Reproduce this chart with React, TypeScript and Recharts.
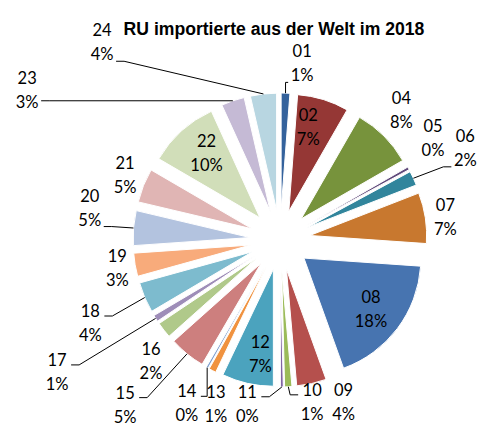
import { Pie, PieChart, Sector } from "recharts";

const TITLE = "RU importierte aus der Welt im 2018";

const codes = [
  "01", "02", "04", "05", "06", "07", "08", "09", "10", "11", "12", "13",
  "14", "15", "16", "17", "18", "19", "20", "21", "22", "23", "24",
];

// share of imports in %
const values = [
  1.2, 7.1, 8.4, 0.4, 2.0, 7.0, 18.4, 4.1, 1.0, 0.4, 7.1, 1.0,
  0.3, 5.0, 2.2, 0.9, 4.2, 3.2, 4.8, 4.7, 9.8, 3.2, 3.6,
];

const colors = [
  "#34629c", "#953735", "#77933c", "#604a7b", "#31859c", "#c8782f", "#4774b0", "#b5504d",
  "#9bbb59", "#8064a2", "#4ba3be", "#f0923f", "#7f9fcf", "#cd7f7e", "#b0c98a", "#9e8db8",
  "#7dbbce", "#f8ab7b", "#b3c3df", "#e0b5b4", "#d1deb9", "#c5bad5", "#b8d6e1",
];

const leaderCodes = ["01", "06", "10", "11", "14", "15", "17", "18", "20", "23", "24"];

const data = codes.map((name, i) => ({ name, value: values[i], fill: colors[i] }));

const RADIAN = Math.PI / 180;
const RADIUS = 117;
const EXPLODE = 30;

// label placement: distance from centre and clockwise nudge in degrees
const labelRadius = [
  178, 116, 178, 184, 207, 167, 114, 174, 165, 167, 116, 176,
  188, 226, 177, 259, 207, 165, 193, 168, 114, 294, 266,
];
const labelShift = [
  5, -3, -2, -4.6, -1.6, 0.8, 0, -9, -8, 12, -3, -6,
  0, 4, -5.4, 1.6, -0.6, 0, 5, 1, 2, -40.6, -35.5,
];

const ExplodedSlice = (props: any) => {
  const { cx, cy, midAngle, innerRadius, outerRadius, startAngle, endAngle, fill } = props;
  const dx = EXPLODE * Math.cos(-midAngle * RADIAN);
  const dy = EXPLODE * Math.sin(-midAngle * RADIAN);
  return (
    <Sector
      cx={cx + dx}
      cy={cy + dy}
      innerRadius={innerRadius}
      outerRadius={outerRadius}
      startAngle={startAngle}
      endAngle={endAngle}
      fill={fill}
      stroke="#fff"
      strokeWidth={1}
    />
  );
};

const renderLabel = (props: any) => {
  const { cx, cy, midAngle, percent, index } = props;
  const theta = 90 - midAngle;
  const phi = (theta + labelShift[index]) * RADIAN;
  const r = labelRadius[index];
  const lx = cx + r * Math.sin(phi);
  const ly = cy - r * Math.cos(phi);
  const code = codes[index];

  let leader = null;
  if (leaderCodes.includes(code)) {
    const reach = RADIUS + EXPLODE;
    const ax = cx + reach * Math.sin(theta * RADIAN);
    const ay = cy - reach * Math.cos(theta * RADIAN);
    const side = ax < lx ? -1 : 1;
    const ex = lx + side * 14;
    const ey = ly + Math.max(-7, Math.min(19, ay - ly));
    const tx = ex + side * Math.min(8, Math.abs(ax - ex));
    leader = (
      <path d={`M${ax},${ay}L${tx},${ey}L${ex},${ey}`} stroke="#000" strokeWidth={1} fill="none" />
    );
  }

  const textStyle = { fontFamily: "Lato, sans-serif", fontSize: 16.5, fill: "#000" };
  return (
    <g>
      {leader}
      <text x={lx} y={ly - 12} textAnchor="middle" dominantBaseline="central" style={textStyle}>
        {code}
      </text>
      <text x={lx} y={ly + 12} textAnchor="middle" dominantBaseline="central" style={textStyle}>
        {`${Math.round(percent * 100)}%`}
      </text>
    </g>
  );
};

const App = () => {
  return (
    <div style={{ position: "absolute", left: 0, top: 0, width: 484, height: 429, background: "#fff" }}>
      <PieChart width={484} height={429}>
        <Pie
          data={data}
          dataKey="value"
          nameKey="name"
          cx={275}
          cy={235}
          outerRadius={RADIUS}
          startAngle={90}
          endAngle={-270}
          stroke="#fff"
          strokeWidth={1}
          shape={ExplodedSlice}
          activeShape={ExplodedSlice}
          inactiveShape={ExplodedSlice}
          label={renderLabel}
          labelLine={false}
          isAnimationActive={false}
        />
      </PieChart>
      <svg width={484} height={60} style={{ position: "absolute", left: 0, top: 0, pointerEvents: "none" }}>
        <text
          x={274}
          y={35}
          textAnchor="middle"
          style={{ fontFamily: "'Liberation Sans', Arial, sans-serif", fontWeight: "bold", fontSize: 17.6, fill: "#000" }}
        >
          {TITLE}
        </text>
      </svg>
    </div>
  );
};

export default App;
